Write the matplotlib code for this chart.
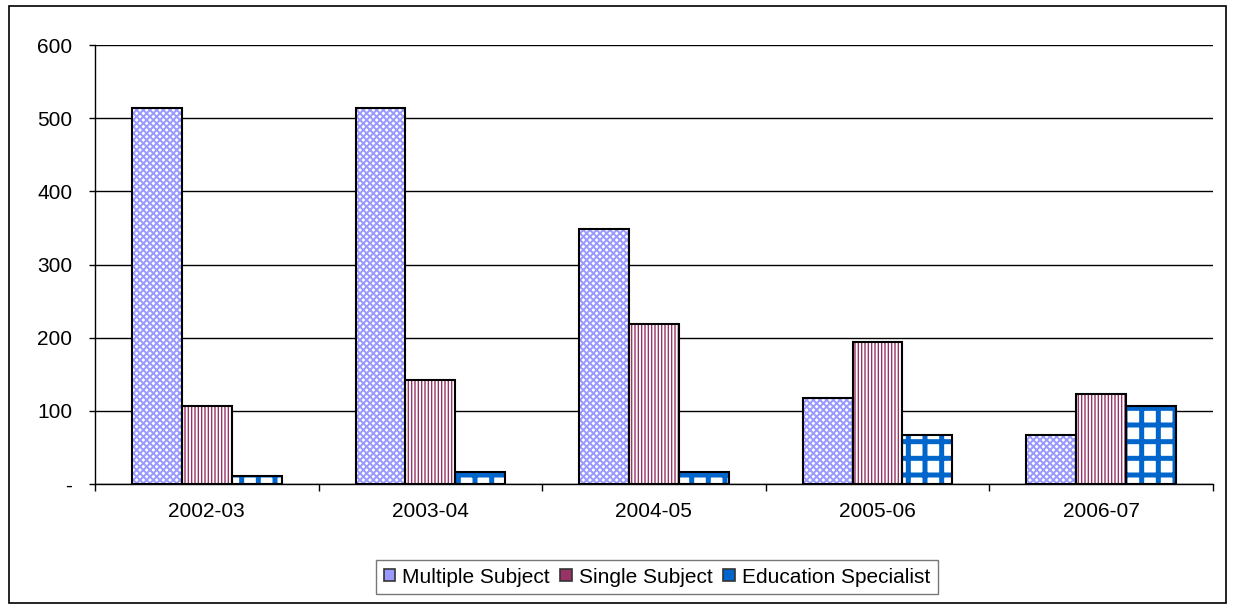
import numpy as np
import matplotlib
matplotlib.use("Agg")
import matplotlib.pyplot as plt
from matplotlib.patches import Rectangle

plt.rcParams['font.family'] = ['Liberation Sans', 'DejaVu Sans']

years = ["2002-03", "2003-04", "2004-05", "2005-06", "2006-07"]
multiple_subject = [514, 514, 348, 118, 67]
single_subject = [107, 142, 219, 194, 123]
education_specialist = [11, 16, 16, 67, 107]

yticks = [0, 100, 200, 300, 400, 500, 600]
ytick_labels = ["-", "100", "200", "300", "400", "500", "600"]

# name, values, pattern colour, hatch, hatch linewidth
series = [
    ("Multiple Subject", multiple_subject, "#9999FF", "xxxxx", 1.4),
    ("Single Subject", single_subject, "#993366", "|||||", 1.0),
    ("Education Specialist", education_specialist, "#0066CC", "+", 3.6),
]

fig = plt.figure(figsize=(12.35, 6.09), dpi=100)
ax = fig.add_axes([0.077, 0.205, 0.905, 0.721])

x = np.arange(len(years))
w = 0.223
handles = []
for i, (name, vals, col, hatch, hlw) in enumerate(series):
    pos = x + (i - 1) * w
    bars = ax.bar(pos, vals, width=w, color="white", edgecolor=col,
                  hatch=hatch, linewidth=0, zorder=2)
    for b in bars:
        if hasattr(b, "set_hatch_linewidth"):
            b.set_hatch_linewidth(hlw)
    ax.bar(pos, vals, width=w, fill=False, edgecolor="black",
           linewidth=1.5, zorder=3)
    h = Rectangle((0, 0), 1, 1, facecolor=col, edgecolor="#333333",
                  linewidth=1.2, label=name)
    handles.append(h)

ax.set_xlim(-0.5, len(years) - 0.5)
ax.set_ylim(0, 600)
ax.set_yticks(yticks)
ax.set_yticklabels(ytick_labels, fontsize=15)
ax.set_xticks(x)
ax.set_xticklabels(years, fontsize=15)
ax.set_xticks(np.arange(len(years) + 1) - 0.5, minor=True)
ax.tick_params(axis="x", which="major", length=0, pad=13)
ax.tick_params(axis="x", which="minor", length=5, width=1, direction="out")
ax.tick_params(axis="y", length=4.5, width=1, direction="out", pad=12)

ax.grid(axis="y", color="black", linewidth=1)
ax.set_axisbelow(True)
ax.spines["top"].set_visible(False)
ax.spines["right"].set_visible(False)
ax.spines["left"].set_linewidth(1)
ax.spines["bottom"].set_linewidth(1)

leg = fig.legend(handles=handles, loc="center", bbox_to_anchor=(0.532, 0.0525),
                 ncol=3, frameon=True, fancybox=False, edgecolor="#555555",
                 fontsize=15, handlelength=0.55, handleheight=0.55,
                 handletextpad=0.35, columnspacing=0.5, borderpad=0.35)
leg.get_frame().set_linewidth(1)

# border round the whole chart
fig.patches.append(Rectangle((0.007, 0.01), 0.986, 0.98, transform=fig.transFigure,
                             fill=False, edgecolor="black", linewidth=1.2))

fig.savefig("out.png", dpi=100)
